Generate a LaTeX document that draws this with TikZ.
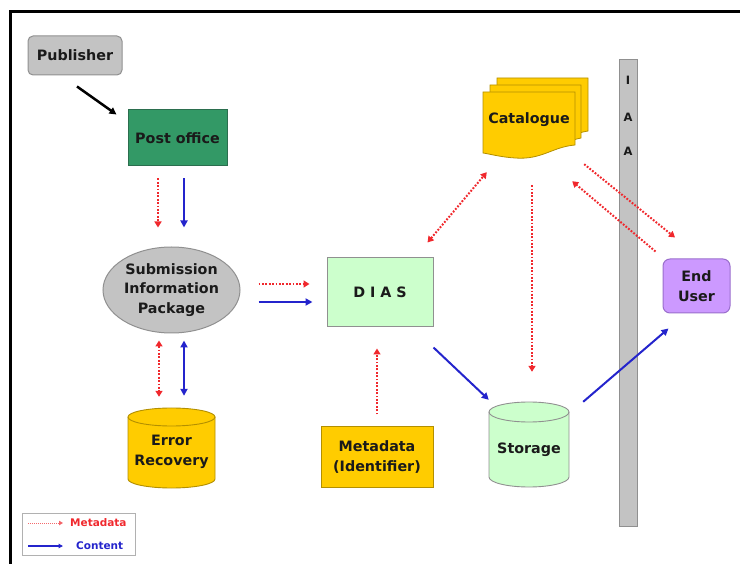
\documentclass[tikz,border=0pt]{standalone}
\usepackage{fontspec}
\setmainfont{DejaVu Sans}
\usetikzlibrary{arrows.meta,shapes.geometric}

\definecolor{gold}{HTML}{FFCC00}
\definecolor{golddark}{HTML}{B38F00}
\definecolor{postgreen}{HTML}{339966}
\definecolor{postedge}{HTML}{2B6E4E}
\definecolor{paleg}{HTML}{CCFFCC}
\definecolor{greyfill}{HTML}{C3C3C3}
\definecolor{greyedge}{HTML}{909090}
\definecolor{lilac}{HTML}{CC99FF}
\definecolor{lilacedge}{HTML}{9A6FCC}
\definecolor{metared}{HTML}{F0282D}
\definecolor{contblue}{HTML}{2424CC}
\definecolor{ink}{HTML}{1A1A1A}

\tikzset{
  lbl/.style={align=center, text=ink, inner sep=0pt,
    font=\bfseries\fontsize{14.3}{19.5}\selectfont},
  boxnode/.style={lbl, draw, line width=1pt},
  metaflow/.style={draw=metared, line width=2pt, dash pattern=on 1.8pt off 1.6pt,
    -{Triangle[length=6pt,width=7pt,fill=metared]}},
  metaboth/.style={metaflow, {Triangle[length=6pt,width=7pt,fill=metared]}-{Triangle[length=6pt,width=7pt,fill=metared]}},
  contflow/.style={draw=contblue, line width=2pt, -{Triangle[length=7pt,width=7pt]}},
  contboth/.style={contflow, {Triangle[length=7pt,width=7pt]}-{Triangle[length=7pt,width=7pt]}},
  pagefill/.style={fill=gold, draw=golddark, line width=0.8pt},
}

\begin{document}
\begin{tikzpicture}[x=1pt,y=-1pt]
\useasboundingbox (0,0) rectangle (740,564);

% frame lines along the top and left
\draw[line width=3pt] (10,564) -- (10,12) -- (740,12);

% IAA interface bar
\node[draw=greyedge, fill=greyfill, line width=1pt, minimum width=18pt, minimum height=466pt, inner sep=0pt] (iaa) at (628,293) {};
\node[lbl, font=\bfseries\fontsize{11.5}{13}\selectfont] (iaaI) at (628,80) {I};
\node[lbl, font=\bfseries\fontsize{11.5}{13}\selectfont] (iaaA1) at (628,117) {A};
\node[lbl, font=\bfseries\fontsize{11.5}{13}\selectfont] (iaaA2) at (628,151) {A};

% nodes
\node[boxnode, draw=greyedge, fill=greyfill, rounded corners=5pt, minimum width=94pt, minimum height=39pt] (pub) at (75,55.5) {Publisher};
\node[boxnode, draw=postedge, fill=postgreen, minimum width=99pt, minimum height=56pt] (po) at (177.5,138) {Post office};
\node[boxnode, ellipse, draw=greyedge, fill=greyfill, minimum width=137pt, minimum height=86pt] (sip) at (171.5,290) {Submission\\Information\\Package};
\node[boxnode, draw=greyedge, fill=paleg, minimum width=106pt, minimum height=69pt] (dias) at (380,292.5) {D I A S};
\node[boxnode, draw=golddark, fill=gold, minimum width=112pt, minimum height=60pt] (meta) at (377,457) {Metadata\\(Identifier)};
\node[boxnode, draw=lilacedge, fill=lilac, rounded corners=7pt, minimum width=67pt, minimum height=54pt] (eu) at (696.5,286) {End\\User};

% Error Recovery cylinder
\fill[gold] (128,417) -- (128,479) arc[start angle=180, end angle=0, x radius=43.5, y radius=9] -- (215,417) arc[start angle=360, end angle=180, x radius=43.5, y radius=9] -- cycle;
\draw[golddark, line width=0.9pt] (128,417) -- (128,479) arc[start angle=180, end angle=0, x radius=43.5, y radius=9] -- (215,417);
\draw[golddark, line width=0.9pt] (171.5,417) ellipse[x radius=43.5, y radius=9];
\node[minimum width=87pt, minimum height=80pt, inner sep=0pt] (err) at (171.5,448) {};
\node[lbl] (errlbl) at (171.5,452) {Error\\Recovery};

% Storage cylinder
\fill[paleg] (489,412) -- (489,477) arc[start angle=180, end angle=0, x radius=40, y radius=10] -- (569,412) arc[start angle=360, end angle=180, x radius=40, y radius=10] -- cycle;
\draw[greyedge, line width=0.9pt] (489,412) -- (489,477) arc[start angle=180, end angle=0, x radius=40, y radius=10] -- (569,412);
\draw[greyedge, line width=0.9pt] (529,412) ellipse[x radius=40, y radius=10];
\node[minimum width=80pt, minimum height=85pt, inner sep=0pt] (sto) at (529,444.5) {};
\node[lbl] (stolbl) at (529,450) {Storage};

% Catalogue: three stacked pages with a wavy lower edge
\draw[pagefill] (497,78) -- (588,78) -- (588,131) .. controls (575,133) and (570,138) .. (560,140) -- (497,140) -- cycle;
\draw[pagefill] (490,85) -- (581,85) -- (581,138) .. controls (570,140) and (565,145) .. (555,147) -- (490,147) -- cycle;
\draw[pagefill] (483,92) -- (575,92) -- (575,145) .. controls (552,147) and (542,160) .. (515,158) .. controls (500,157) and (490,154) .. (483,153) -- cycle;
\node[minimum width=105pt, minimum height=80pt, inner sep=0pt] (cat) at (535.5,118) {};
\node[lbl] (catlbl) at (529,120) {Catalogue};

% connectors
\draw[line width=2.5pt, -{Triangle[length=7pt,width=7pt]}] ([shift={(2,11)}]pub.south) -- ([shift={(-11,5)}]po.north west);
\draw[metaflow] ([shift={(-19.5,12)}]po.south) -- ([shift={(-13.5,-19)}]sip.north);
\draw[contflow] ([shift={(6.5,12)}]po.south) -- ([shift={(12.5,-19)}]sip.north);
\draw[metaflow] ([shift={(18,-6)}]sip.east) -- ([shift={(-17,-8.5)}]dias.west);
\draw[contflow] ([shift={(18,12)}]sip.east) -- ([shift={(-14,9.5)}]dias.west);
\draw[metaboth] ([shift={(-12.5,7)}]sip.south) -- ([shift={(-12.5,-11)}]err.north);
\draw[contboth] ([shift={(12.5,7)}]sip.south) -- ([shift={(12.5,-12)}]err.north);
\draw[metaflow] ([shift={(0,-12)}]meta.north) -- ([shift={(-3,21)}]dias.south);
\draw[contflow] ([shift={(0,20)}]dias.south east) -- ([shift={(0,-2)}]sto.north west);
\draw[contflow] ([shift={(14,0)}]sto.north east) -- ([shift={(6,15)}]eu.south west);
\draw[metaboth] ([shift={(-6,-15)}]dias.north east) -- ([shift={(4,14)}]cat.south west);
\draw[metaflow] ([shift={(-3.5,27)}]cat.south) -- ([shift={(3,-30)}]sto.north);
\draw[metaflow] ([shift={(-4,6)}]cat.south east) -- ([shift={(-21.5,-21)}]eu.north);
\draw[metaflow] ([shift={(-7,-7)}]eu.north west) -- ([shift={(-16,23)}]cat.south east);

% legend
\node[draw=greyedge!70, line width=1pt, minimum width=113pt, minimum height=42pt, inner sep=0pt] (legend) at (78.5,534) {};
\coordinate (lma) at (28,523);
\coordinate (lmb) at (63,523);
\coordinate (lca) at (28,546);
\coordinate (lcb) at (63,546);
\draw[draw=metared!70, line width=1pt, dash pattern=on 1pt off 1pt, -{Triangle[length=4pt,width=4.5pt,fill=metared]}] (lma) -- (lmb);
\draw[draw=contblue, line width=1.2pt, -{Triangle[length=4.5pt,width=4.5pt]}] (lca) -- (lcb);
\node[anchor=west, inner sep=0pt, text=metared, font=\bfseries\fontsize{10.5}{11}\selectfont] (lmeta) at (70,523) {Metadata};
\node[anchor=west, inner sep=0pt, text=contblue, font=\bfseries\fontsize{10.5}{11}\selectfont] (lcont) at (76,546) {Content};
\end{tikzpicture}
\end{document}
